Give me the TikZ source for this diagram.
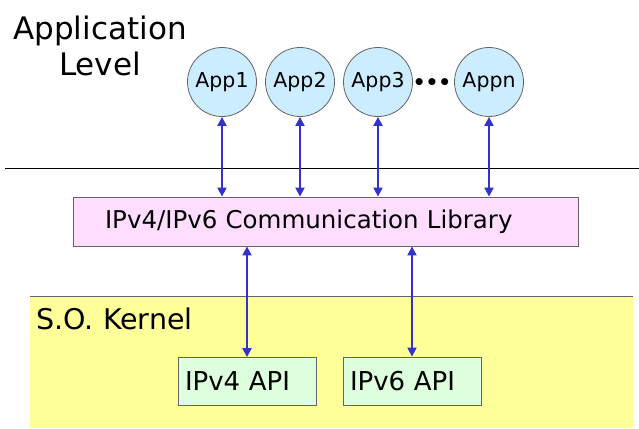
\documentclass[tikz,border=0pt]{standalone}
\usepackage{tikz}
\usetikzlibrary{shapes,arrows,arrows.meta,positioning,calc}
\usepackage{xcolor}
\usepackage{fontspec}
\setmainfont{DejaVu Sans}
\definecolor{appblue}{RGB}{204,236,255}
\definecolor{libpink}{RGB}{255,221,255}
\definecolor{apigreen}{RGB}{221,255,221}
\definecolor{kernyellow}{RGB}{255,255,153}
\definecolor{arrowblue}{RGB}{51,51,204}
\definecolor{edgegray}{RGB}{100,100,100}
\tikzset{
    appnode/.style={circle, draw=edgegray, fill=appblue, minimum size=69pt, inner sep=0pt, font=\fontsize{20.5}{22}\selectfont, line width=0.8pt},
    libblock/.style={rectangle, draw=edgegray, fill=libpink, minimum height=49pt, text width=441pt, align=left, inner xsep=32pt, font=\fontsize{24.5}{26}\selectfont, line width=0.8pt},
    apiblock/.style={rectangle, draw=edgegray, fill=apigreen, minimum height=48pt, text width=124pt, align=left, inner xsep=7pt, font=\fontsize{26}{28}\selectfont, line width=0.8pt},
    title/.style={font=\fontsize{31}{36}\selectfont, align=center},
    line/.style={draw=arrowblue, {Triangle[length=9pt,width=9pt]}-{Triangle[length=9pt,width=9pt]}, line width=2pt}
}
\begin{document}
\begin{tikzpicture}[x=1pt, y=-1pt]
    \useasboundingbox (0,0) rectangle (639,428);
    \fill [kernyellow] (30,296) rectangle (633,428);
    \draw [edgegray, line width=0.8pt] (30,296) -- (633,296);
    \draw [black, line width=1pt] (5,168) -- (639,168);

    \node [title] (applevel) at (100,46) {Application\\Level};
    \node [appnode] (app1) at (222,82) {App1};
    \node [appnode] (app2) at (300,82) {App2};
    \node [appnode] (app3) at (378,82) {App3};
    \node [font=\fontsize{20}{20}\selectfont\bfseries] (dots) at (432,84) {•••};
    \node [appnode] (appn) at (489,82) {Appn};
    \node [libblock] (lib) at (325.5,221.5) {IPv4/IPv6 Communication Library};
    \node [anchor=west, font=\fontsize{28.5}{30}\selectfont] (kernel) at (33,319) {S.O. Kernel};
    \node [apiblock] (v4api) at (247,381.5) {IPv4 API};
    \node [apiblock] (v6api) at (412,381) {IPv6 API};

    \path [line] (app1.south) -- (app1.south |- lib.north);
    \path [line] (app2.south) -- (app2.south |- lib.north);
    \path [line] (app3.south) -- (app3.south |- lib.north);
    \path [line] (appn.south) -- (appn.south |- lib.north);
    \path [line] (v4api.north |- lib.south) -- (v4api.north);
    \path [line] (v6api.north |- lib.south) -- (v6api.north);
\end{tikzpicture}
\end{document}
